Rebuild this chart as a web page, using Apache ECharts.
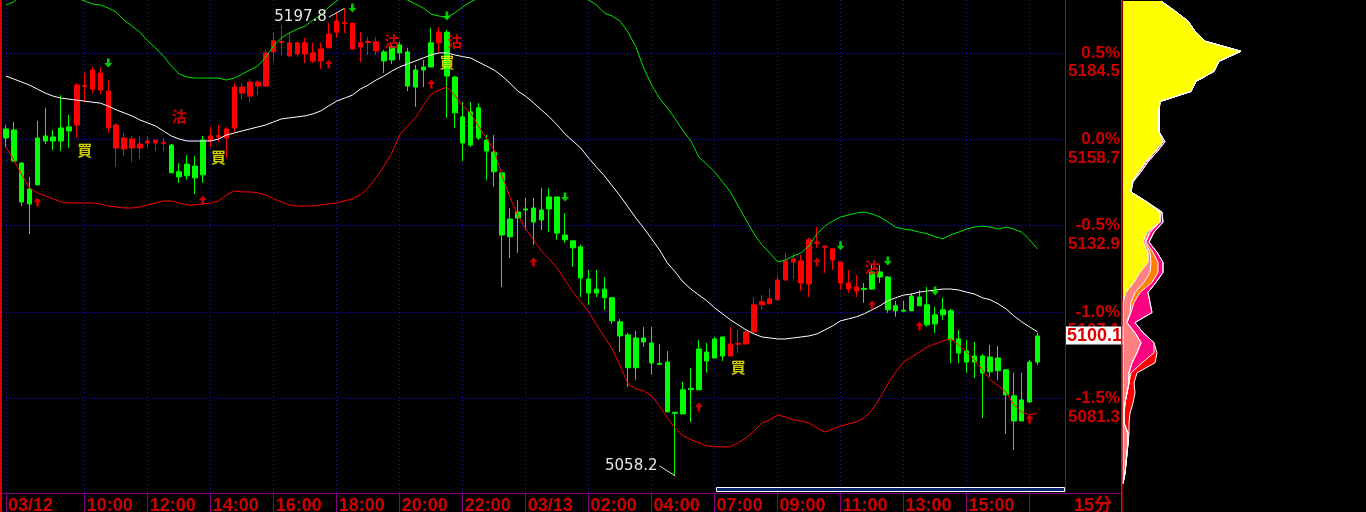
<!DOCTYPE html>
<html><head><meta charset="utf-8">
<script src="https://cdn.jsdelivr.net/npm/echarts@6/dist/echarts.min.js"></script>
<style>html,body{margin:0;padding:0;background:#000;}#c{width:1366px;height:512px;}</style>
</head><body><div id="c"></div>
<script>
// ---------- candle data (15-minute bars) ----------
const opens = [5161.8,5161.5,5151.6,5143.9,5159.1,5159.7,5159.4,5162.1,5162.4,5163.0,
5174.5,5173.7,5173.4,5162.1,5156.1,5155.8,5156.1,5156.1,5157.6,5157.6,
5157.5,5157.0,5149.0,5151.3,5150.7,5158.5,5158.2,5159.5,5159.1,5162.1,
5172.5,5171.6,5174.6,5174.6,5184.8,5187.6,5183.6,5184.2,5184.2,5182.1,
5182.1,5186.0,5190.7,5193.3,5185.7,5186.3,5187.6,5185.1,5184.8,5186.3,
5186.9,5184.8,5179.4,5180.3,5187.5,5187.5,5190.7,5177.3,5165.4,5166.9,
5168.1,5158.5,5154.9,5148.7,5134.9,5137.0,5137.9,5138.2,5137.6,5141.5,
5141.5,5130.1,5128.4,5126.6,5117.0,5114.0,5114.0,5111.4,5104.2,5100.3,
5099.4,5099.4,5097.9,5091.8,5092.2,5077.2,5083.9,5084.3,5096.1,5095.2,
5099.1,5099.7,5094.0,5097.5,5097.6,5101.2,5109.3,5109.6,5110.8,5116.7,
5122.1,5115.8,5115.5,5127.7,5126.5,5122.7,5115.8,5114.0,5113.4,5114.2,
5119.1,5119.1,5117.6,5109.0,5107.7,5111.9,5111.6,5109.3,5106.3,5107.8,
5107.5,5099.1,5095.5,5094.0,5094.0,5093.7,5093.4,5089.9,5082.1,5080.9,
5092.2,5100.0];
const closes = [5159.1,5152.2,5140.0,5139.4,5145.1,5158.2,5158.2,5158.2,5161.2,5174.9,
5174.8,5179.4,5178.5,5173.1,5163.0,5159.1,5158.8,5157.3,5158.2,5158.5,
5157.8,5148.7,5147.5,5147.8,5147.2,5148.1,5159.7,5159.8,5161.8,5174.3,
5174.3,5175.8,5175.8,5184.5,5188.1,5187.9,5187.5,5187.5,5187.5,5184.5,
5185.7,5190.1,5194.0,5193.6,5193.4,5187.5,5187.9,5187.8,5182.1,5182.4,
5184.5,5174.6,5174.3,5179.4,5180.3,5190.7,5177.6,5166.6,5157.6,5157.0,
5159.1,5155.2,5149.0,5130.1,5129.6,5135.2,5137.6,5134.0,5134.6,5137.9,
5130.7,5128.7,5126.3,5117.3,5112.8,5112.8,5111.4,5104.5,5100.0,5090.5,
5090.5,5098.2,5091.9,5091.5,5077.3,5076.9,5076.7,5084.0,5083.9,5092.5,
5093.4,5094.0,5097.6,5097.8,5101.2,5109.3,5110.2,5111.1,5116.7,5122.4,
5123.0,5122.4,5128.7,5128.0,5126.8,5126.0,5122.1,5115.8,5114.6,5113.9,
5114.0,5117.6,5107.8,5107.5,5107.4,5107.5,5109.0,5103.3,5103.6,5106.3,
5098.8,5094.9,5092.2,5092.2,5088.9,5089.3,5089.6,5082.4,5074.6,5074.6,
5080.3,5092.2];
const lows = [5156.4,5151.9,5138.8,5130.4,5145.0,5157.3,5155.5,5155.2,5156.1,5159.1,
5169.8,5172.5,5172.2,5160.6,5150.5,5153.7,5151.9,5152.8,5156.1,5155.2,
5155.2,5148.6,5145.7,5146.6,5142.4,5145.7,5156.4,5157.9,5153.1,5160.9,
5170.7,5169.8,5171.9,5174.3,5181.8,5183.9,5183.3,5183.3,5181.5,5181.5,
5179.7,5186.0,5189.0,5190.4,5185.4,5181.8,5183.9,5183.9,5178.5,5181.2,
5182.4,5173.1,5168.4,5174.3,5180.3,5184.8,5165.1,5162.1,5152.2,5156.4,
5158.5,5146.6,5144.5,5114.6,5123.3,5124.8,5131.6,5127.2,5131.6,5131.0,
5128.7,5127.8,5120.6,5111.6,5109.3,5111.6,5107.8,5103.6,5095.2,5084.8,
5086.9,5096.7,5088.4,5091.3,5077.3,5058.2,5076.7,5074.3,5083.9,5089.0,
5093.4,5092.5,5094.0,5094.9,5097.6,5100.9,5107.8,5109.6,5110.5,5116.4,
5117.0,5113.4,5111.6,5126.3,5118.8,5119.7,5113.7,5112.8,5111.6,5109.9,
5113.7,5115.8,5106.9,5105.7,5107.2,5107.5,5109.0,5102.7,5100.9,5104.8,
5091.9,5091.9,5089.0,5087.5,5075.5,5087.8,5086.9,5070.8,5066.0,5074.6,
5080.0,5091.3];
const highs = [5163.0,5163.9,5151.9,5147.5,5164.2,5168.1,5161.5,5171.9,5166.0,5175.5,
5178.5,5180.3,5180.3,5176.4,5163.6,5160.6,5159.7,5159.7,5159.7,5158.5,
5159.1,5157.3,5151.6,5154.0,5153.7,5159.7,5162.4,5163.0,5162.4,5175.5,
5175.5,5176.7,5176.4,5185.4,5190.7,5192.8,5190.4,5187.8,5189.0,5187.5,
5187.5,5193.4,5196.7,5197.8,5193.4,5190.7,5189.3,5189.3,5185.4,5186.9,
5187.8,5186.0,5180.9,5182.4,5191.9,5192.2,5191.3,5177.6,5169.8,5169.8,
5169.5,5160.0,5160.0,5148.7,5138.2,5140.6,5141.2,5141.2,5144.2,5144.2,
5141.5,5136.7,5128.4,5127.2,5119.7,5119.7,5117.6,5111.4,5105.1,5100.9,
5101.5,5102.7,5102.7,5097.6,5095.5,5077.2,5086.3,5090.5,5098.8,5097.9,
5099.7,5099.7,5102.7,5101.8,5101.8,5111.6,5112.2,5114.0,5118.2,5124.8,
5124.8,5124.2,5129.3,5132.5,5126.9,5126.0,5122.1,5119.7,5118.2,5115.8,
5121.2,5121.2,5117.9,5110.5,5110.5,5112.8,5113.7,5114.6,5108.7,5111.4,
5108.1,5101.8,5098.8,5098.2,5094.6,5097.3,5097.0,5089.9,5089.0,5089.0,
5092.8,5100.9];

// ---------- Bollinger bands ----------
const bollUpper = [5198.8,5199.7,5202.1,5203.3,5203.9,5203.3,5202.7,5202.1,5201.5,5200.9,
5200.0,5199.1,5198.8,5197.9,5196.7,5194.3,5192.5,5190.7,5188.1,5186.0,
5183.6,5180.6,5178.2,5177.3,5177.0,5177.0,5177.0,5177.0,5176.4,5177.0,
5178.2,5179.4,5180.6,5183.3,5186.6,5189.0,5190.5,5191.6,5192.5,5194.3,
5195.8,5198.2,5200.0,5201.8,5203.0,5204.8,5205.7,5205.7,5204.5,5203.3,
5201.5,5200.3,5199.1,5197.9,5196.1,5195.5,5195.2,5196.4,5198.2,5199.7,
5200.9,5202.1,5203.3,5206.9,5209.3,5210.4,5211.0,5210.4,5209.6,5207.8,
5205.7,5203.9,5203.0,5201.8,5200.3,5198.8,5196.4,5195.5,5194.0,5190.7,
5186.3,5180.0,5174.9,5171.0,5168.1,5164.8,5161.2,5158.2,5153.4,5151.3,
5149.0,5146.0,5143.0,5138.8,5134.6,5130.5,5127.2,5124.8,5122.1,5122.7,
5123.9,5124.8,5126.9,5130.5,5132.8,5134.3,5135.5,5136.1,5136.7,5137.0,
5136.4,5135.5,5134.0,5132.5,5131.9,5131.6,5131.0,5130.5,5129.6,5129.0,
5130.2,5131.0,5131.9,5132.5,5132.8,5132.5,5131.9,5132.5,5131.9,5131.0,
5128.7,5126.0];
const bollMid = [5177.6,5176.7,5175.8,5174.9,5173.7,5172.5,5171.6,5171.0,5170.7,5170.4,
5170.1,5169.8,5169.5,5168.6,5167.5,5166.6,5165.7,5164.5,5163.6,5162.7,
5161.2,5159.7,5158.8,5158.2,5158.2,5158.2,5158.2,5158.8,5160.0,5160.6,
5161.2,5161.8,5162.4,5163.0,5163.9,5164.8,5165.1,5165.4,5165.7,5166.3,
5167.2,5168.7,5170.1,5171.0,5171.9,5173.7,5174.9,5176.4,5177.6,5179.1,
5180.3,5181.2,5182.1,5183.0,5183.9,5184.5,5184.5,5183.9,5183.4,5183.0,
5181.8,5180.6,5179.4,5177.6,5175.5,5173.1,5171.6,5169.6,5167.5,5165.4,
5163.0,5160.3,5158.2,5156.1,5153.1,5150.4,5147.8,5144.8,5141.8,5138.5,
5135.2,5132.2,5129.0,5125.7,5121.8,5119.1,5116.1,5114.0,5112.2,5110.5,
5108.4,5106.6,5104.8,5103.3,5101.8,5100.6,5099.7,5099.4,5099.1,5099.1,
5099.4,5099.7,5100.0,5100.6,5101.8,5103.0,5104.5,5105.1,5105.7,5106.6,
5107.8,5109.0,5110.5,5111.4,5112.2,5112.5,5113.1,5113.4,5113.7,5114.0,
5114.0,5113.7,5113.1,5112.5,5111.4,5110.8,5109.6,5108.1,5106.0,5104.2,
5102.7,5101.2];
const bollLower = [5156.4,5152.5,5148.1,5144.2,5142.7,5141.8,5140.9,5140.0,5139.7,5139.7,
5139.7,5139.7,5139.4,5138.8,5138.5,5138.2,5138.2,5138.5,5139.1,5139.7,
5140.3,5140.3,5139.7,5139.1,5139.1,5139.4,5139.7,5140.3,5142.1,5143.3,
5143.0,5143.0,5142.7,5142.1,5140.9,5140.0,5139.1,5138.8,5138.8,5138.8,
5139.1,5139.4,5139.7,5140.3,5140.9,5142.1,5144.2,5147.2,5150.7,5154.6,
5160.0,5162.7,5165.1,5168.7,5172.2,5173.4,5174.3,5171.9,5168.7,5166.6,
5162.7,5159.1,5155.5,5147.8,5141.5,5136.1,5132.0,5128.7,5125.4,5123.0,
5120.3,5116.7,5113.1,5110.2,5107.2,5103.3,5099.7,5096.1,5091.1,5085.7,
5084.2,5083.6,5082.1,5079.1,5075.5,5072.5,5070.2,5069.0,5068.1,5067.2,
5066.9,5066.9,5066.9,5068.1,5069.6,5071.6,5074.0,5074.9,5076.4,5075.8,
5074.9,5074.6,5074.0,5072.5,5071.3,5072.2,5073.1,5073.7,5074.3,5075.5,
5077.9,5081.5,5085.7,5089.3,5092.2,5093.7,5095.2,5096.7,5097.6,5098.5,
5099.1,5097.3,5095.2,5092.8,5089.9,5086.9,5085.1,5083.3,5079.4,5077.3,
5076.4,5077.0];

// ---------- signal markers [barIndex, price] ----------
const upArrows = [[4,5140.0],[25,5140.6],[41,5181.2],[54,5175.2],[67,5122.1],[88,5078.8],[103,5122.1],[110,5109.3],[116,5103.0],[130,5075.2]];
const downArrows = [[13,5181.5],[44,5197.9],[56,5195.5],[71,5141.5],[106,5126.9],[112,5122.4],[118,5113.4]];
const buyMarks = [[10,5155.5],[27,5153.4],[56,5181.8],[93,5090.5]];
const sellMarks = [[22,5165.7],[49,5188.1],[57,5188.1],[110,5120.6]];

// ---------- axis ticks ----------
const xTickIndex = [0,10,18,26,34,42,50,58,66,74,82,90,98,106,114,122,130];
const xTickText = ['03/12','10:00','12:00','14:00','16:00','18:00','20:00','22:00','03/13','02:00','04:00','07:00','09:00','11:00','13:00','15:00',''];
const priceTicks = [5184.5,5158.7,5132.9,5107.1,5081.3];
const pctTicks = ['0.5%','0.0%','-0.5%','-1.0%','-1.5%'];
const lastPrice = 5100.1;
const periodLabel = '15分';

// ---------- volume profile (price levels, bottom to top) ----------
const profileLevels = [5056,5059,5062,5065,5068,5071,5074,5077,5080,5083,5086,5089,5092,5095,5098,5101,5104,5107,5110,5113,5116,5119,5122,5125,5128,5131,5134,5137,5140,5143,5146,5149,5152,5155,5158,5161,5164,5167,5170,5173,5176,5179,5182,5185,5188,5191,5194,5197,5200];
const profYellow = [0,0,0,0,0,0,0,0,0,0, 0,0,0,0,0,0,0,0,0,3, 11,17,25,25,20,24,37,37,24,8, 9,16,23,32,40,36,36,36,37,68, 73,91,96,118,82,72,65,52,38];
const profSalmon = [0,2,3,4,5,5,1,1,2,4, 6,6,9,14,18,12,4,7,8,9, 10,10,3,2,2,3,0,0,0,0, 0,0,0,0,0,0,0,0,0,0, 0,0,0,0,0,0,0,0,0];
const profOrange = [0,0,0,0,0,0,0,0,0,0, 0,0,0,0,0,0,0,1,3,5, 8,8,7,3,1,0,0,0,0,0, 0,0,0,0,0,0,0,0,0,0, 0,0,0,0,0,0,0,0,0];
const profPink   = [0,0,0,0,0,0,0,0,0,0, 0,2,10,17,13,8,8,21,16,8, 4,5,5,4,3,4,3,2,0,0, 1,2,2,2,2,0,0,0,0,0, 0,0,0,0,0,0,0,0,0];
const profRed    = [0,0,0,0,0,1,5,6,8,8, 5,6,13,3,0,0,0,0,0,0, 0,0,0,0,0,0,0,0,0,0, 0,0,0,0,0,0,0,0,0,0, 0,0,0,0,0,0,0,0,0];

// ---------- categories: 15-min bars from 03/12 07:30, closed 05:00-06:00 ----------
const N_CAT = 135;
const categories = [];
(function(){
  let day = 12, t = 7*60+30;
  for (let k=0;k<N_CAT;k++){
    const hh = String(Math.floor(t/60)).padStart(2,'0'), mm = String(t%60).padStart(2,'0');
    categories.push('03/'+day+' '+hh+':'+mm);
    t += 15;
    if (t >= 1440){ t -= 1440; day++; }
    if (day===13 && t===300) t = 360;
  }
})();
const tickMap = {};
xTickIndex.forEach((ix,k)=>{ tickMap[ix] = xTickText[k]; });

const candleData = opens.map((o,i)=>[o, closes[i], lows[i], highs[i]]);
const maxHigh = Math.max(...highs), maxIdx = highs.indexOf(maxHigh);
const minLow = Math.min(...lows), minIdx = lows.indexOf(minLow);

const RED = '#d00000', PURPLE = '#800080', GRIDC = '#1a1ab0';
const UP_PATH = 'path://M4.5,0L9,5L6,5L6,10L3,10L3,5L0,5Z';
const DN_PATH = 'path://M3,0L6,0L6,5L9,5L4.5,10L0,5L3,5Z';

const chart = echarts.init(document.getElementById('c'), null, {renderer:'canvas'});
const option = {
  backgroundColor: '#000',
  animation: false,
  grid: [
    {left: 2, top: 0, width: 1063, height: 493, containLabel:false, outerBoundsMode:'none'},
    {left: 1123, top: 1.0, width: 200, height: 482.4, containLabel:false, outerBoundsMode:'none'}
  ],
  xAxis: [
    {type:'category', gridIndex:0, data:categories, boundaryGap:true,
     axisLine:{show:true, lineStyle:{color:PURPLE, width:1}},
     axisTick:{show:true, alignWithLabel:true, interval:(i)=>(i in tickMap), length:20, lineStyle:{color:PURPLE, width:1}},
     axisLabel:{show:true, interval:(i)=>(i in tickMap), formatter:(v,i)=>tickMap[i]||'',
       align:'left', verticalAlign:'top', padding:[0,0,0,2], margin:4,
       color:RED, fontWeight:'bold', fontSize:18, fontFamily:'Liberation Sans, Arial, sans-serif'},
     splitLine:{show:false}},
    {type:'value', gridIndex:1, min:0, max:200, show:false}
  ],
  yAxis: [
    {type:'value', gridIndex:0, min:5053.1, max:5200.3, position:'right',
     axisLine:{show:true, lineStyle:{color:PURPLE, width:1}},
     axisTick:{show:false}, splitLine:{show:false},
     axisLabel:{show:true, customValues:priceTicks, showMinLabel:true, showMaxLabel:true,
       formatter:(v)=>{ const k = priceTicks.findIndex(p=>Math.abs(p-v)<0.01); return k<0 ? '' : '\n'+pctTicks[k]+'\n'+priceTicks[k].toFixed(1); },
       align:'right', verticalAlign:'middle', margin:55, lineHeight:18.5, padding:[4,0,0,0],
       color:RED, fontWeight:'bold', fontSize:17, fontFamily:'Liberation Sans, Arial, sans-serif'}},
    {type:'category', gridIndex:1, data:profileLevels, boundaryGap:false, show:false}
  ],
  series: [
    {type:'line', name:'grid', data:[], z:1, silent:true,
     markLine:{silent:true, z:1, symbol:['none','none'], label:{show:false},
       lineStyle:{color:GRIDC, type:[1,3], width:1},
       data:[...xTickIndex.map(i=>({xAxis:categories[i]})), ...priceTicks.map(p=>({yAxis:p}))]}},
    {type:'candlestick', name:'K', data:candleData, barWidth:5, z:3,
     itemStyle:{color:'#ff0000', color0:'#00ff00', borderColor:'#ff0000', borderColor0:'#00ff00', borderWidth:1},
     markLine:{silent:true, z:8, symbol:['none','none'], lineStyle:{color:'rgba(0,0,0,0)', width:1},
       label:{show:true, position:'end', distance:1, formatter:lastPrice.toFixed(1),
         backgroundColor:'#ffffff', color:'#e00000', fontWeight:'bold', fontSize:18,
         fontFamily:'Liberation Sans, Arial, sans-serif', padding:[0,1,0,1], lineHeight:18},
       emphasis:{disabled:true},
       data:[{yAxis:lastPrice}]}},
    {type:'line', name:'upper', data:bollUpper, showSymbol:false, symbol:'none', z:4,
     lineStyle:{color:'#00e600', width:1}},
    {type:'line', name:'mid', data:bollMid, showSymbol:false, symbol:'none', z:4,
     lineStyle:{color:'#ffffff', width:1}},
    {type:'line', name:'lower', data:bollLower, showSymbol:false, symbol:'none', z:4,
     lineStyle:{color:'#ff0000', width:1}},
    {type:'scatter', name:'up', data:upArrows, symbol:UP_PATH, symbolSize:[8,9], z:5,
     itemStyle:{color:'#ff0000'}},
    {type:'scatter', name:'down', data:downArrows, symbol:DN_PATH, symbolSize:[8,9], z:5,
     itemStyle:{color:'#00ff00'}},
    {type:'scatter', name:'buy', data:buyMarks, symbolSize:1, z:6, itemStyle:{color:'rgba(0,0,0,0)'},
     label:{show:true, position:'inside', formatter:'買', color:'#ffff00', fontSize:15, fontWeight:'bold', fontFamily:'Noto Sans CJK TC'}},
    {type:'scatter', name:'sell', data:sellMarks, symbolSize:1, z:6, itemStyle:{color:'rgba(0,0,0,0)'},
     label:{show:true, position:'inside', formatter:'沽', color:'#ff0000', fontSize:15, fontWeight:'bold', fontFamily:'Noto Sans CJK TC'}},
    {type:'line', name:'hiLink', data:[[categories[maxIdx-2], maxHigh-2.6],[categories[maxIdx], maxHigh]],
     showSymbol:false, symbol:'none', z:6, lineStyle:{color:'#e0e0e0', width:1},
     markPoint:{symbol:'circle', symbolSize:0, data:[{coord:[categories[maxIdx-2], maxHigh-2.6], value:maxHigh}],
       label:{show:true, position:'left', distance:2, formatter:maxHigh.toFixed(1), color:'#e6e6e6', fontSize:15, fontFamily:'DejaVu Sans'}}},
    {type:'line', name:'loLink', data:[[categories[minIdx-2], minLow+3.0],[categories[minIdx], minLow]],
     showSymbol:false, symbol:'none', z:6, lineStyle:{color:'#e0e0e0', width:1},
     markPoint:{symbol:'circle', symbolSize:0, data:[{coord:[categories[minIdx-2], minLow+3.0], value:minLow}],
       label:{show:true, position:'left', distance:2, formatter:minLow.toFixed(1), color:'#e6e6e6', fontSize:15, fontFamily:'DejaVu Sans'}}},
    // volume profile
    ...[['y',profYellow,'#ffff00'],['s',profSalmon,'#ff8080'],['o',profOrange,'#ff8000'],['p',profPink,'#ff0080'],['r',profRed,'#ff0000']].map(([n,d,c])=>({
      type:'line', name:'prof_'+n, xAxisIndex:1, yAxisIndex:1, stack:'prof', data:d,
      showSymbol:false, symbol:'none', z:2,
      lineStyle:{color:'#ffffff', width:1}, areaStyle:{color:c, opacity:1}
    }))
  ],
  graphic: [
    {type:'rect', shape:{x:0, y:0, width:2, height:512}, style:{fill:'#e00000'}, z:10},
    {type:'rect', shape:{x:1121, y:0, width:1.5, height:512}, style:{fill:'#ff0000'}, z:10},
    {type:'rect', shape:{x:1065, y:493, width:56, height:1}, style:{fill:PURPLE}, z:10},
    {type:'rect', shape:{x:716.5, y:487.5, width:348, height:4}, style:{fill:'#0c2470', stroke:'#ffffff', lineWidth:1}, z:10},
    {type:'text', x:1074, y:497, style:{text:periodLabel, fill:RED, font:'bold 18px "Liberation Sans", "Noto Sans CJK SC", sans-serif'}, z:10}
  ]
};
chart.setOption(option);
</script>
</body></html>
